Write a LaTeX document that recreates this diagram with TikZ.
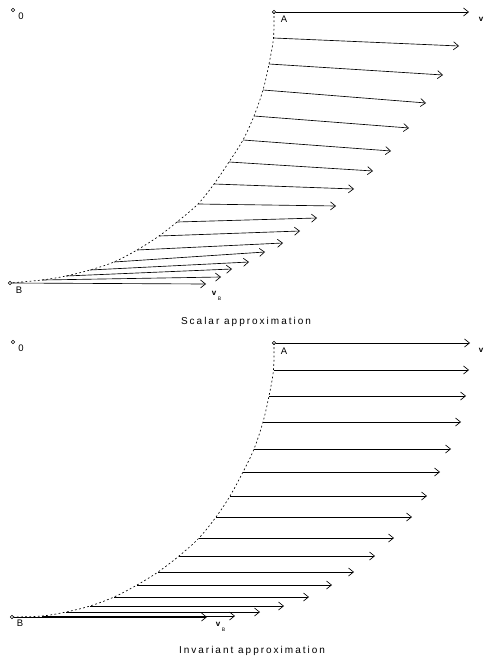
\documentclass[tikz,border=0pt]{standalone}
\usepackage{fontspec}
\setsansfont{Liberation Sans}
\newfontfamily\capfont[LetterSpace=20]{Liberation Sans}
\usetikzlibrary{arrows.meta}
\begin{document}
\begin{tikzpicture}[x=1pt,y=-1pt,
  vec/.style={line width=0.65pt,-{Straight Barb[length=5pt,width=8pt,line width=0.65pt]}},
  curvepath/.style={line width=0.65pt,dash pattern=on 1.8pt off 2.4pt},
  pt/.style={circle,draw,line width=0.6pt,inner sep=0pt,minimum size=3.6pt,fill=white},
  lbl/.style={font=\sffamily\fontsize{9.5}{9.5}\selectfont,inner sep=0pt},
  vlbl/.style={font=\sffamily\bfseries\fontsize{8}{8}\selectfont,inner sep=0pt},
  sub/.style={font=\sffamily\fontsize{5}{5}\selectfont,inner sep=0pt},
  caption/.style={font=\capfont\fontsize{10}{10}\selectfont,inner sep=0pt}]
\useasboundingbox (0,0) rectangle (484,658);
\clip (0,0) rectangle (484,658);

% ---------------- top panel: scalar approximation
\node[pt] (O1) at (13,10) {};
\node[lbl] (O1l) at (21,16) {0};
\node[pt] (A1) at (274,12) {};
\node[lbl] (A1l) at (284,19) {A};
\node[pt] (B1) at (10,283) {};
\node[lbl] (B1l) at (19,290) {B};
\coordinate (te1) at (469,12);
\foreach \i/\sx/\sy/\ex/\ey in {
  2/273.5/38/459/46, 3/269/64/443/75, 4/263/90/426/103, 5/254/116/409/128,
  6/243/140/391/151, 7/229/162/373/171, 8/214/184/354/189, 9/198/204/336/206,
  10/177/222/317/218, 11/159/236/300/231, 12/137/250/283/243, 13/114/262/265/252,
  14/90/270/249/262, 15/66/276/232/269, 16/42/280/221/277}{
  \coordinate (ts\i) at (\sx,\sy);
  \coordinate (te\i) at (\ex,\ey);
  \draw[vec] (ts\i) -- (te\i);
}
\coordinate (te17) at (206,284);
\draw[vec] (A1) -- (te1);
\draw[vec] (B1) -- (te17);
\draw[curvepath] plot[smooth,tension=0.55] coordinates {(A1.center) (ts2) (ts3) (ts4) (ts5) (ts6) (ts7) (ts8) (ts9) (ts10) (ts11) (ts12) (ts13) (ts14) (ts15) (ts16) (B1.center)};
\node[vlbl] (vA1) at (481,19) {v};
\node[vlbl] (vB1) at (214,293) {v};
\node[sub] (vB1s) at (219.5,299) {B};
\node[caption] (cap1) at (246,322) {Scalar approximation};

% ---------------- bottom panel: invariant approximation
\node[pt] (O2) at (13,342) {};
\node[lbl] (O2l) at (21,348) {0};
\node[pt] (A2) at (274,343) {};
\node[lbl] (A2l) at (284,351) {A};
\node[pt] (B2) at (12,617) {};
\node[lbl] (B2l) at (20,623) {B};
\coordinate (be1) at (470,343);
\foreach \i/\sx/\sy/\ex in {
  2/273.5/370/469, 3/269/396/466, 4/263/422/461, 5/254/449/451,
  6/243/472/440, 7/230/496/427, 8/216/517/412, 9/199/538/394,
  10/179/556/375, 11/158/572/354, 12/137/585/332, 13/114/597/309,
  14/90/606/284, 15/66/612/260, 16/42/616/235}{
  \coordinate (bs\i) at (\sx,\sy);
  \coordinate (be\i) at (\ex,\sy);
  \draw[vec] (bs\i) -- (be\i);
}
\coordinate (be17) at (207,617);
\draw[vec] (A2) -- (be1);
\draw[vec] (B2) -- (be17);
\draw[curvepath] plot[smooth,tension=0.55] coordinates {(A2.center) (bs2) (bs3) (bs4) (bs5) (bs6) (bs7) (bs8) (bs9) (bs10) (bs11) (bs12) (bs13) (bs14) (bs15) (bs16) (B2.center)};
\node[vlbl] (vA2) at (481,350) {v};
\node[vlbl] (vB2) at (218,624) {v};
\node[sub] (vB2s) at (223.5,630) {B};
\node[caption] (cap2) at (252,651) {Invariant approximation};
\end{tikzpicture}
\end{document}
